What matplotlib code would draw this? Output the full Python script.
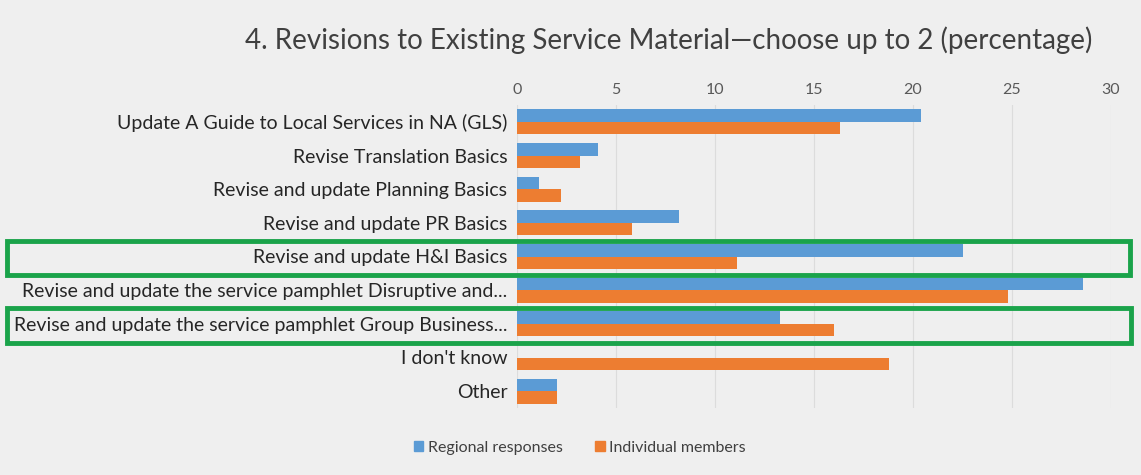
import matplotlib
matplotlib.use("Agg")
import matplotlib.pyplot as plt
import numpy as np
from matplotlib.patches import Rectangle, Patch

# 데이터
categories = [
    "Update A Guide to Local Services in NA (GLS)",
    "Revise Translation Basics",
    "Revise and update Planning Basics",
    "Revise and update PR Basics",
    "Revise and update H&I Basics",
    "Revise and update the service pamphlet Disruptive and...",
    "Revise and update the service pamphlet Group Business...",
    "I don't know",
    "Other",
]
regional = [20.4, 4.1, 1.1, 8.2, 22.5, 28.6, 13.3, 0.0, 2.0]
individual = [16.3, 3.2, 2.2, 5.8, 11.1, 24.8, 16.0, 18.8, 2.0]
xticks = [0, 5, 10, 15, 20, 25, 30]
highlight = ["Revise and update H&I Basics",
             "Revise and update the service pamphlet Group Business..."]

BLUE = "#5b9bd5"
ORANGE = "#ed7d31"
BG = "#efefef"
GREEN = "#1aa34a"

plt.rcParams['font.family'] = ['Lato', 'DejaVu Sans']

W, H = 1141, 475
fig = plt.figure(figsize=(W / 100, H / 100), dpi=100, facecolor=BG)
ax = fig.add_axes([517 / W, 1 - 408 / H, 594 / W, 303 / H])
ax.set_facecolor(BG)

y = np.arange(len(categories))
bh = 0.37
ax.barh(y - bh / 2, regional, height=bh, color=BLUE, label="Regional responses")
ax.barh(y + bh / 2, individual, height=bh, color=ORANGE, label="Individual members")

ax.set_ylim(len(categories) - 0.5, -0.5)
ax.set_xlim(0, 30)
ax.set_xticks(xticks)
ax.xaxis.tick_top()
ax.tick_params(axis='x', length=0, labelsize=11.5, colors="#595959", pad=6)
ax.set_yticks(y)
ax.set_yticklabels(categories, fontsize=14, color="#262626")
ax.tick_params(axis='y', length=0, pad=7)
ax.grid(axis='x', color="#dcdcdc", linewidth=0.8)
ax.set_axisbelow(True)
for s in ax.spines.values():
    s.set_visible(False)

fig.text(669 / W, 1 - 40 / H,
         "4. Revisions to Existing Service Material\u2014choose up to 2 (percentage)",
         ha='center', va='center', fontsize=20, color="#404040")

# 강조 박스 (figure 픽셀 좌표)
boxes = {highlight[0]: (7, 241, 1130, 275), highlight[1]: (7, 308, 1131, 343)}
for name, (x0, y0, x1, y1) in boxes.items():
    fig.patches.append(Rectangle((x0 / W, 1 - y1 / H), (x1 - x0) / W, (y1 - y0) / H,
                                 transform=fig.transFigure, fill=False,
                                 edgecolor=GREEN, linewidth=3.5))

handles = [Patch(color=BLUE, label="Regional responses"),
           Patch(color=ORANGE, label="Individual members")]
fig.legend(handles=handles, loc='center', bbox_to_anchor=(580 / W, 1 - 448 / H),
           ncol=2, frameon=False, fontsize=11.5, handlelength=0.6, handleheight=0.6,
           handletextpad=0.3, columnspacing=2.0, labelcolor="#404040")

fig.savefig("out.png", dpi=100, facecolor=BG)
